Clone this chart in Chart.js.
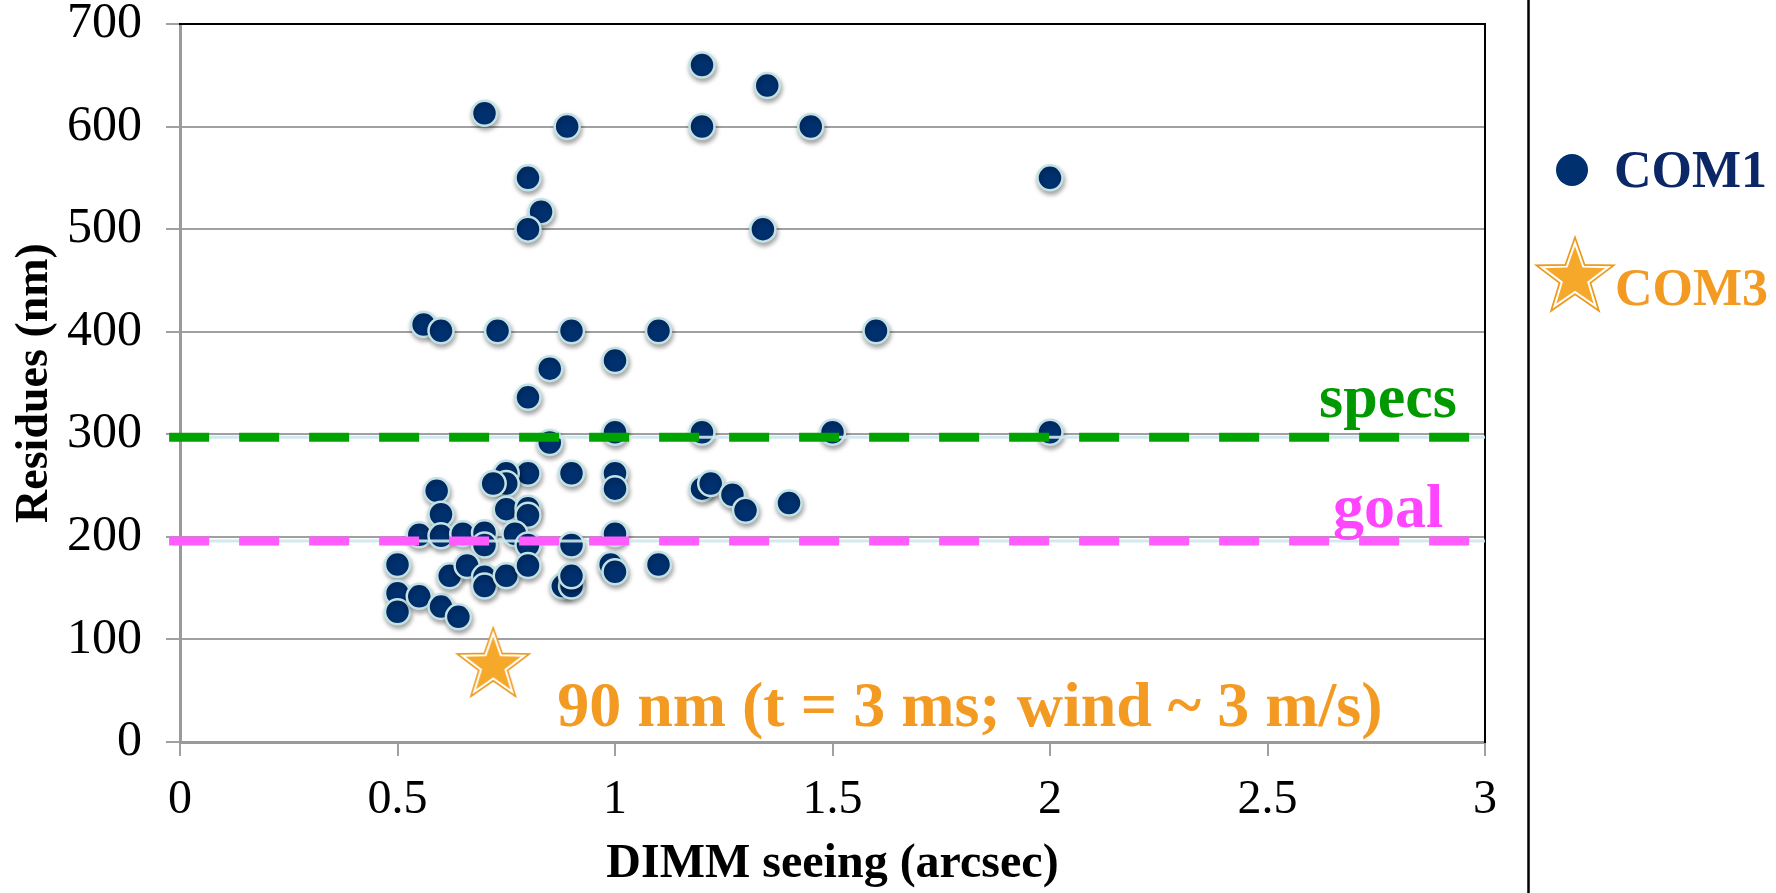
<!DOCTYPE html>
<html>
<head>
<meta charset="utf-8">
<script src="https://cdn.jsdelivr.net/npm/chart.js@4.4.0/dist/chart.umd.min.js"></script>
<style>
  html, body { margin: 0; padding: 0; background: #fff; }
</style>
</head>
<body>
<canvas id="chart" width="1776" height="893"></canvas>
<script>
// COM1 runs: DIMM seeing (arcsec) vs residues (nm)
const com1Seeing = [
  1.20, 1.35, 0.70, 0.89, 1.20, 1.45, 2.00, 0.80, 0.83, 0.80, 1.34,
  0.56, 0.60, 0.73, 0.90, 1.10, 1.60, 1.00, 0.85, 0.80,
  1.00, 1.20, 1.50, 2.00, 0.85,
  0.80, 0.90, 1.00, 1.00, 1.20, 1.22, 1.27, 1.30, 1.40,
  0.75, 0.75, 0.72, 0.59, 0.60, 0.75, 0.80, 0.80,
  0.55, 0.60, 0.65, 0.70, 0.77, 1.00, 0.70, 0.80, 0.90,
  0.50, 0.50, 0.50, 0.55, 0.60, 0.64, 0.62, 0.66, 0.70, 0.70,
  0.75, 0.80, 0.88, 0.90, 0.90, 0.99, 1.00, 1.10
];
const com1Residues = [
  660, 640, 613, 600, 600, 600, 550, 550, 517, 500, 500,
  407, 401, 401, 401, 401, 401, 372, 364, 336,
  302, 302, 302, 302, 292,
  262, 262, 262, 247, 247, 252, 241, 226, 233,
  262, 252, 252, 245, 222, 227, 228, 221,
  202, 201, 203, 204, 203, 203, 192, 192, 192,
  173, 145, 127, 142, 132, 122, 162, 172, 161, 152,
  162, 172, 152, 152, 162, 173, 166, 173
];
// COM3 run
const com3Seeing = [0.72];
const com3Residues = [78];

// reference levels (nm)
const specsLevel = 297;
const goalLevel = 196;
const levelSpan = [-0.025, 3];

const xTicks = [0, 0.5, 1, 1.5, 2, 2.5, 3];
const yTicks = [0, 100, 200, 300, 400, 500, 600, 700];

const serif = "'Liberation Serif', 'Times New Roman', serif";
const navy = '#00306e';
const orange = '#f39a22';

function makeStar(r) {
  const pad = 3;
  const c = document.createElement('canvas');
  c.width = c.height = Math.ceil(2 * r + 2 * pad);
  const g = c.getContext('2d');
  const cx = c.width / 2, cy = c.height / 2 + r * 0.0955;
  function path(R) {
    g.beginPath();
    for (let i = 0; i < 10; i++) {
      const rr = i % 2 ? R * 0.4 : R;
      const a = -Math.PI / 2 + i * Math.PI / 5;
      g.lineTo(cx + rr * Math.cos(a), cy + rr * Math.sin(a));
    }
    g.closePath();
  }
  path(r);
  g.fillStyle = '#f5a82a'; g.fill();
  g.strokeStyle = '#eb981c'; g.lineWidth = 1.5; g.stroke();
  path(r * 0.85);
  g.strokeStyle = '#fff'; g.lineWidth = 2; g.stroke();
  return c;
}
const plotStar = makeStar(38);
const legendStar = makeStar(41);

const toXY = (xs, ys) => xs.map((x, i) => ({ x: x, y: ys[i] }));
const level = v => levelSpan.map(x => ({ x: x, y: v }));

// soft drop shadow under the COM1 dots
const dotShadow = {
  id: 'dotShadow',
  beforeDatasetDraw(chart, args) {
    if (args.index !== 0) return;
    const ctx = chart.ctx;
    ctx.save();
    ctx.shadowColor = 'rgba(0,0,0,0.35)';
    ctx.shadowBlur = 5;
    ctx.shadowOffsetX = 1;
    ctx.shadowOffsetY = 3;
  },
  afterDatasetDraw(chart, args) {
    if (args.index === 0) chart.ctx.restore();
  }
};

// level labels, COM3 note, side legend
const extras = {
  id: 'extras',
  afterDraw(chart) {
    const ctx = chart.ctx, xs = chart.scales.x, ys = chart.scales.y;
    ctx.save();
    ctx.textBaseline = 'alphabetic';

    ctx.font = 'bold 62px ' + serif;
    ctx.textAlign = 'center';
    ctx.fillStyle = '#009a00';
    ctx.fillText('specs', xs.getPixelForValue(2.777), ys.getPixelForValue(317));
    ctx.fillStyle = '#ff45ff';
    ctx.fillText('goal', xs.getPixelForValue(2.777), ys.getPixelForValue(210));

    ctx.font = 'bold 64px ' + serif;
    ctx.textAlign = 'left';
    ctx.fillStyle = orange;
    ctx.fillText('90 nm (t = 3 ms; wind ~ 3 m/s)', xs.getPixelForValue(0.867), ys.getPixelForValue(15.6));

    // separator
    ctx.strokeStyle = '#000';
    ctx.lineWidth = 2.5;
    ctx.beginPath();
    ctx.moveTo(1528.5, 0);
    ctx.lineTo(1528.5, chart.height);
    ctx.stroke();

    // legend
    ctx.fillStyle = navy;
    ctx.beginPath();
    ctx.arc(1572, 170, 16, 0, Math.PI * 2);
    ctx.fill();
    ctx.font = 'bold 52px ' + serif;
    ctx.fillStyle = '#0b2766';
    ctx.fillText('COM1', 1614, 187);
    ctx.drawImage(legendStar, 1575 - legendStar.width / 2, 274 - legendStar.height / 2);
    ctx.fillStyle = orange;
    ctx.fillText('COM3', 1615, 305);
    ctx.restore();
  }
};

new Chart(document.getElementById('chart'), {
  type: 'scatter',
  data: {
    datasets: [
      {
        label: 'COM1',
        data: toXY(com1Seeing, com1Residues),
        backgroundColor: navy,
        borderColor: '#c3e2e6',
        borderWidth: 2.5,
        pointRadius: 12.5,
        order: 4
      },
      {
        label: 'COM3',
        data: toXY(com3Seeing, com3Residues),
        pointStyle: plotStar,
        order: 3
      },
      {
        type: 'line', label: 'specs shade', data: level(specsLevel),
        borderColor: 'rgba(205,232,236,0.9)', borderWidth: 3,
        pointRadius: 0, clip: false, order: 2
      },
      {
        type: 'line', label: 'goal shade', data: level(goalLevel),
        borderColor: 'rgba(205,232,236,0.9)', borderWidth: 3,
        pointRadius: 0, clip: false, order: 2
      },
      {
        type: 'line', label: 'specs', data: level(specsLevel),
        borderColor: '#00a300', borderWidth: 9, borderDash: [40, 30],
        borderCapStyle: 'butt', pointRadius: 0, clip: false, order: 1
      },
      {
        type: 'line', label: 'goal', data: level(goalLevel),
        borderColor: '#ff5bff', borderWidth: 9, borderDash: [40, 30],
        borderCapStyle: 'butt', pointRadius: 0, clip: false, order: 1
      }
    ]
  },
  options: {
    responsive: false,
    animation: false,
    devicePixelRatio: 1,
    layout: { padding: { left: 0, right: 291, top: 24, bottom: 0 } },
    plugins: { legend: { display: false }, tooltip: { enabled: false } },
    scales: {
      x: {
        type: 'linear', position: 'bottom', min: 0, max: 3,
        afterBuildTicks: s => { s.ticks = xTicks.map(v => ({ value: v })); },
        ticks: {
          font: { family: serif, size: 48 }, color: '#000', padding: 16, maxRotation: 0,
          callback: v => String(v)
        },
        grid: { drawOnChartArea: false, drawTicks: true, tickLength: 14, color: '#a0a0a0', lineWidth: 2 },
        border: { color: '#9a9a9a', width: 3 },
        title: {
          display: true, text: 'DIMM seeing (arcsec)', color: '#000',
          font: { family: serif, size: 48, weight: 'bold' }, padding: { top: 0, bottom: 0 }
        },
        afterFit: s => { s.height = 151; s.paddingLeft = 0; s.paddingRight = 0; }
      },
      y: {
        type: 'linear', position: 'left', min: 0, max: 700,
        afterBuildTicks: s => { s.ticks = yTicks.map(v => ({ value: v })); },
        ticks: { font: { family: serif, size: 50 }, color: '#000', padding: 24 },
        grid: { color: '#a0a0a0', lineWidth: 2, tickLength: 14 },
        border: { color: '#9a9a9a', width: 3 },
        title: {
          display: true, text: 'Residues (nm)', color: '#000',
          font: { family: serif, size: 46, weight: 'bold' }, padding: { top: 8, bottom: 0 }
        },
        afterFit: s => { s.width = 180; s.paddingTop = 0; s.paddingBottom = 0; }
      },
      x2: {
        type: 'linear', position: 'top', min: 0, max: 3,
        ticks: { display: false }, grid: { display: false },
        border: { color: '#000', width: 2 },
        afterFit: s => { s.height = 0; s.paddingLeft = 0; s.paddingRight = 0; }
      },
      y2: {
        type: 'linear', position: 'right', min: 0, max: 700,
        ticks: { display: false }, grid: { display: false },
        border: { color: '#000', width: 2 },
        afterFit: s => { s.width = 0; s.paddingTop = 0; s.paddingBottom = 0; }
      }
    }
  },
  plugins: [dotShadow, extras]
});
</script>
</body>
</html>
